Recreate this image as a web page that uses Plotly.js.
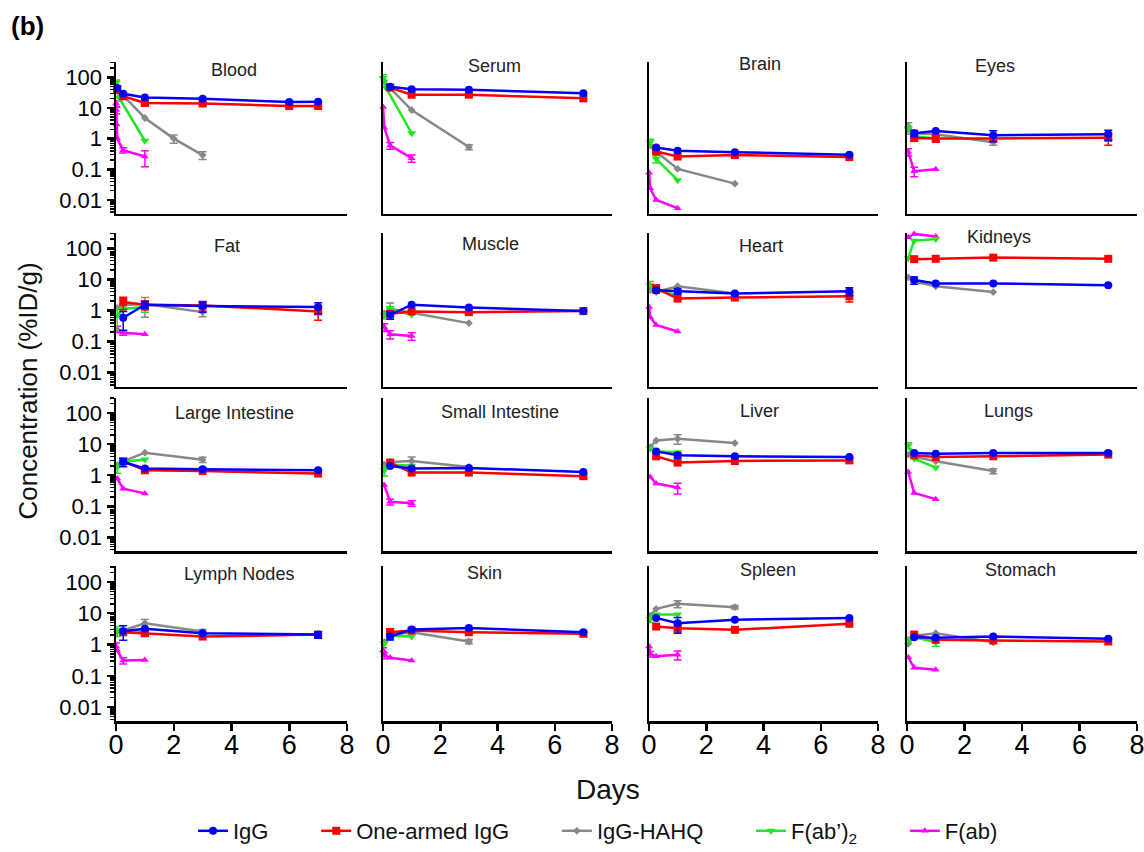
<!DOCTYPE html>
<html><head><meta charset="utf-8">
<script src="https://cdn.plot.ly/plotly-3.0.1.min.js"></script>
<style>html,body{margin:0;padding:0;background:#fff}#chart{width:1144px;height:852px}</style>
</head><body><div id="chart"></div>
<script>
// ---------------- DATA ----------------
const organs = ["Blood","Serum","Brain","Eyes","Fat","Muscle","Heart","Kidneys",
  "Large Intestine","Small Intestine","Liver","Lungs","Lymph Nodes","Skin","Spleen","Stomach"];
const seriesNames = ["IgG","One-armed IgG","IgG-HAHQ","F(ab’)<sub>2</sub>","F(ab)"];

// time points (days)
const dIgG = [0.25, 1, 3, 7];
const dBloodIgG = [0.042, 0.25, 1, 3, 6, 7];
const dHAHQ = [0.042, 0.25, 1, 3];
const dBloodHAHQ = [0.042, 0.25, 1, 2, 3];
const dFab2 = [0.042, 0.25, 1];
const dEarlyFab2 = [0.0035, 0.1, 1];
const dFab3 = [0.042, 0.25, 1];
const dFab4 = [0.0035, 0.042, 0.25, 1];
const dBloodFab = [0.0035, 0.01, 0.021, 0.042, 0.25, 1];

// IgG
const iggDays = [dBloodIgG, dIgG, dIgG, dIgG, dIgG, dIgG, dIgG, dIgG, dIgG, dIgG, dIgG, dIgG, dIgG, dIgG, dIgG, dIgG];
const iggConc = [
  [45,29,22,20,15.5,16],[49,41,39,30],[0.51,0.40,0.36,0.30],[1.5,1.78,1.29,1.38],
  [0.58,1.53,1.38,1.28],[0.72,1.53,1.25,0.95],[4.47,4.15,3.5,4.15],[9.5,7.4,7.4,6.5],
  [2.66,1.64,1.55,1.44],[1.98,1.64,1.71,1.27],[5.85,4.36,4.06,3.85],[5.2,4.9,5.2,5.2],
  [2.66,3.17,2.3,2.08],[1.8,3.0,3.4,2.47],[7.1,4.8,6.2,7.1],[1.71,1.64,1.8,1.52]];
const iggErr = [
  [8,0,0,0,0,0],[8,0,0,0],[0,0,0,0],[0.35,0,0.5,0.5],
  [0.35,0.4,0.5,0.5],[0.2,0,0,0],[0,0.8,0,1.2],[2.5,0,0,0],
  [0.8,0,0,0],[0,0,0,0],[0,0.8,0,0],[0,0,0,0],
  [1.3,0,0,0.5],[0.4,0,0,0],[0,2.5,0,0],[0,0,0,0]];

// One-armed IgG
const oaDays = iggDays;
const oaConc = [
  [40,24,14.5,14,11.5,11.5],[46,27,27,20.5],[0.38,0.26,0.29,0.25],[1.04,1.01,1.01,1.06],
  [1.86,1.53,1.45,0.93],[0.78,0.93,0.88,0.95],[5.1,2.4,2.6,2.85],[44.6,45.8,50,45.8],
  [2.8,1.44,1.37,1.13],[2.55,1.22,1.22,0.93],[4.06,2.55,2.87,3.0],[4.36,3.85,4.06,4.6],
  [2.47,2.3,1.8,2.08],[2.47,2.8,2.47,2.2],[3.76,3.3,2.95,4.6],[2.08,1.41,1.34,1.25]];
const oaErr = [
  [10,0,2,1.5,1,1],[0,0,0,0],[0,0,0,0],[0.2,0.25,0,0.45],
  [0.8,0.5,0.5,0.45],[0,0,0,0],[1.5,0,0,1.0],[0,0,0,0],
  [0,0,0,0],[0,0,0,0.15],[0,0,0,0.5],[0,0,0,0],
  [0,0.4,0,0.5],[0.7,0,0,0.3],[0,0.8,0,0],[0,0,0,0]];

// IgG-HAHQ
const hahqDays = [dBloodHAHQ, dHAHQ, dHAHQ, dHAHQ, dHAHQ, dHAHQ, dHAHQ, dHAHQ, dHAHQ, dHAHQ, dHAHQ, dHAHQ, dHAHQ, dHAHQ, dHAHQ, dHAHQ];
const hahqConc = [
  [36,25,4.7,1.0,0.29],[75,44,8.5,0.53],[0.6,0.38,0.103,0.034],[2.5,1.5,1.38,0.76],
  [1.2,1.5,1.6,0.88],[0.8,1.13,0.84,0.39],[4.5,3.9,6.0,3.5],[11.6,8.5,6.0,3.9],
  [2.0,2.8,5.3,3.17],[2.2,2.66,2.87,1.84],[8.0,13.1,14.9,10.8],[4.6,3.9,2.8,1.37],
  [2.6,2.8,4.8,2.6],[1.2,2.0,2.47,1.25],[8.4,13.8,20,15.6],[1.05,1.9,2.3,1.18]];
const hahqErr = [
  [0,0,0,0.3,0.08],[0,0,0,0.1],[0,0,0,0],[0.8,0,0,0.15],
  [0,0,1.0,0.25],[0,0.6,0,0],[0,0,0,0],[0,0,0,0],
  [0,0,0,0.6],[0,0,1.0,0],[0,0,5,0],[0,0,0,0.25],
  [0,0,1.5,0.4],[0,0,0,0.2],[0,0,5,2],[0,0,0,0]];

// F(ab')2
const fab2Days = [dEarlyFab2, dEarlyFab2, dFab2, dFab2, dFab2, dFab2, dFab2, dFab2, dFab2, dFab2, dFab2, dFab2, dFab2, dFab2, dFab2, dFab2];
const fab2Conc = [
  [66,22,0.85],[95,46,1.5],[0.76,0.22,0.044],[2.0,1.2,1.0],
  [0.69,1.13,1.28],[0.69,1.08,0.72],[6.5,4.5,3.1],[48,175,198],
  [1.85,2.7,3.2],[1.44,2.2,2.0],[7.1,5.8,5.5],[9.1,3.4,1.76],
  [2.8,2.4,2.7],[1.05,1.9,1.8],[6.6,9.1,9.1],[1.41,1.7,1.18]];
const fab2Err = [
  [15,0,0],[25,0,0],[0.2,0.06,0],[0.6,0,0],
  [0.45,0,0.4],[0.15,0.25,0],[2,0,0],[0,0,0],
  [0.7,0,0],[0.5,0,0],[0,0,0],[2,0,0],
  [1.0,0,0],[0,0,0],[1.5,0,0],[0.3,0,0.3]];

// F(ab)
const fabDays = [dBloodFab, dFab4, dFab4, dFab3, dFab3, dFab3, dFab4, dFab3, dFab3, dFab3, dFab3, dFab3, dFab4, dFab4, dFab4, dFab3];
const fabConc = [
  [14,8.5,2.9,1.0,0.42,0.26],[10.8,2.3,0.6,0.23],[0.077,0.024,0.010,0.0054],[0.37,0.087,0.10],
  [0.25,0.19,0.17],[0.29,0.17,0.15],[1.28,0.6,0.34,0.21],[225,290,240],
  [0.78,0.37,0.26],[0.48,0.14,0.125],[0.88,0.54,0.40],[1.28,0.27,0.17],
  [0.86,0.64,0.31,0.32],[0.64,0.45,0.38,0.31],[0.86,0.5,0.42,0.47],[0.39,0.18,0.155]];
const fabErr = [
  [3,2,0,0,0.08,0.14],[0,0,0.15,0.06],[0,0,0,0],[0.1,0.03,0],
  [0.06,0.03,0],[0.08,0.05,0.04],[0,0,0,0],[0,0,0],
  [0,0,0],[0,0.03,0.025],[0,0,0.15],[0,0,0],
  [0.25,0,0.07,0],[0.15,0.1,0,0],[0,0.1,0,0.15],[0,0,0]];

const yTickVals = [0.01, 0.1, 1, 10, 100];
const yTickText = ["0.01", "0.1", "1", "10", "100"];
const xTickVals = [0, 2, 4, 6, 8];

// ---------------- STYLE / LAYOUT ----------------
const W = 1144, H = 852;
const FONT = "Arial, 'Liberation Sans', Helvetica, sans-serif";
const legendPad = '\u00A0\u00A0\u00A0\u00A0\u00A0\u00A0\u00A0';
const series = [
  {name: seriesNames[0], days: iggDays,  conc: iggConc,  err: iggErr,  color: '#0000ff', symbol: 'circle',        size: 8},
  {name: seriesNames[1], days: oaDays,   conc: oaConc,   err: oaErr,   color: '#ff0000', symbol: 'square',        size: 8},
  {name: seriesNames[2], days: hahqDays, conc: hahqConc, err: hahqErr, color: '#888888', symbol: 'diamond',       size: 6},
  {name: seriesNames[3], days: fab2Days, conc: fab2Conc, err: fab2Err, color: '#22e622', symbol: 'triangle-down', size: 8},
  {name: seriesNames[4], days: fabDays,  conc: fabConc,  err: fabErr,  color: '#ff00ff', symbol: 'triangle-up',   size: 7}
];
const drawOrder = [2, 4, 3, 1, 0];
const colPx = [[116,347],[383,612],[649,878],[907,1137]];
const rowPx = [[62,214],[233,387],[398,552],[567,722]];
const titlePx = [[234,70],[494,66],[760,64],[995,66],
                 [227,246],[490,244],[761,246],[999,237],
                 [234,413],[500,412],[759,411],[1008,411],
                 [239,575],[484,574],[768,571],[1020,571]];

const minorVals = [];
for (let e = -3; e <= 2; e++) for (let m = 2; m <= 9; m++) minorVals.push(m * Math.pow(10, e));

const traces = [];
const layout = {
  width: W, height: H,
  margin: {l: 0, r: 0, t: 0, b: 0},
  paper_bgcolor: '#fff', plot_bgcolor: 'rgba(0,0,0,0)',
  font: {family: FONT, color: '#000'},
  showlegend: true,
  legend: {orientation: 'h', x: 598 / W, xanchor: 'center', y: 1 - 832 / H, yanchor: 'middle',
           font: {size: 22, family: FONT, color: '#111'}, itemwidth: 30, bgcolor: 'rgba(0,0,0,0)'},
  annotations: []
};

organs.forEach((organ, i) => {
  const r = Math.floor(i / 4), c = i % 4;
  const sfx = i === 0 ? '' : String(i + 1);
  const xa = 'x' + sfx, ya = 'y' + sfx;
  layout['xaxis' + sfx] = {
    domain: [colPx[c][0] / W, colPx[c][1] / W], anchor: ya, range: [0, 8],
    showline: true, linecolor: '#000', linewidth: 2.5, showgrid: false, zeroline: false,
    ticks: r === 3 ? 'outside' : '', ticklen: 7, tickwidth: 2.5, tickcolor: '#000',
    tickmode: 'array', tickvals: xTickVals, showticklabels: r === 3,
    ticklabeloverflow: 'allow', ticklabelstandoff: -9,
    tickfont: {size: 27, family: FONT, color: '#000'}
  };
  const yax = {
    domain: [1 - rowPx[r][1] / H, 1 - rowPx[r][0] / H], anchor: xa, type: 'log', range: [-2.45, 2.5],
    showline: true, linecolor: '#000', linewidth: 2.5, showgrid: false, zeroline: false,
    ticks: c === 0 ? 'outside' : '', ticklen: 7, tickwidth: 2.5, tickcolor: '#000',
    tickmode: 'array', tickvals: yTickVals, ticktext: yTickText, showticklabels: c === 0,
    tickfont: {size: 22, family: FONT, color: '#000'}
  };
  if (c === 0) yax.minor = {ticks: 'outside', ticklen: 4, tickwidth: 1.5, tickcolor: '#000', tickmode: 'array', tickvals: minorVals, showgrid: false};
  layout['yaxis' + sfx] = yax;

  drawOrder.forEach(k => {
    const s = series[k];
    traces.push({
      type: 'scatter', mode: 'lines+markers', name: k < 4 ? s.name + legendPad : s.name,
      x: s.days[i], y: s.conc[i], xaxis: xa, yaxis: ya,
      line: {color: s.color, width: 2.5},
      marker: {symbol: s.symbol, size: s.size, color: s.color, line: {width: 0}},
      error_y: {type: 'data', symmetric: true, array: s.err[i].map(v => v > 0 ? v : NaN),
                visible: true, color: s.color, thickness: 1.5, width: 4},
      cliponaxis: false, showlegend: i === 0, legendrank: k + 1, hoverinfo: 'skip'
    });
  });

  layout.annotations.push({
    text: organ, xref: 'paper', yref: 'paper', x: titlePx[i][0] / W, y: 1 - titlePx[i][1] / H,
    xanchor: 'center', yanchor: 'middle', showarrow: false,
    font: {size: 18, family: FONT, color: '#222'}
  });
});

layout.annotations.push(
  {text: 'Concentration (%ID/g)', xref: 'paper', yref: 'paper', x: 28 / W, y: 1 - 392 / H,
   textangle: -90, xanchor: 'center', yanchor: 'middle', showarrow: false,
   font: {size: 26, family: FONT, color: '#111'}},
  {text: 'Days', xref: 'paper', yref: 'paper', x: 608 / W, y: 1 - 790 / H,
   xanchor: 'center', yanchor: 'middle', showarrow: false,
   font: {size: 28, family: FONT, color: '#111'}},
  {text: '<b>(b)</b>', xref: 'paper', yref: 'paper', x: 27 / W, y: 1 - 26 / H,
   xanchor: 'center', yanchor: 'middle', showarrow: false,
   font: {size: 26, family: FONT, color: '#000'}}
);

Plotly.newPlot('chart', traces, layout, {displayModeBar: false, staticPlot: true});
</script>
</body></html>
